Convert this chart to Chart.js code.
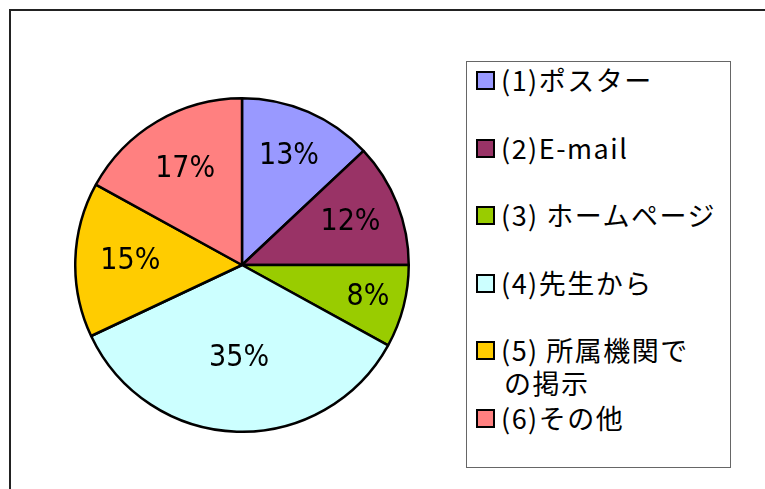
<!DOCTYPE html>
<html>
<head>
<meta charset="utf-8">
<script src="https://cdn.jsdelivr.net/npm/chart.js@4/dist/chart.umd.min.js"></script>
<style>
    html, body { margin: 0; padding: 0; background: #fff; }
    body { width: 765px; height: 489px; position: relative; overflow: hidden; }
    .frame {
        position: absolute; left: 9px; top: 9px; width: 800px; height: 520px;
        border-left: 2px solid #222; border-top: 2px solid #222;
    }
    #pieWrap { position: absolute; left: 74px; top: 97px; width: 336px; height: 336px; }
    .legend {
        position: absolute; left: 466px; top: 61px; width: 263px; height: 405px;
        border: 1px solid #666; box-sizing: content-box;
    }
    .legend ul { list-style: none; margin: 0; padding: 1px 0 0 0; }
    .legend li { position: relative; height: 67.6px; }
    .legend .sw {
        position: absolute; left: 9px; top: 8px; width: 15px; height: 15px;
        border: 2px solid #000;
    }
    .legend .txt {
        position: absolute; left: 34px; top: 0; white-space: nowrap;
        font-family: "Noto Sans CJK JP", sans-serif; font-size: 27px; line-height: 33px;
        letter-spacing: 1.5px; color: #000;
    }
    .legend .txt span { display: block; }
    .legend .txt span + span { padding-left: 3px; }
</style>
</head>
<body>
<div class="frame"></div>
<div id="pieWrap"><canvas id="pie"></canvas></div>
<div class="legend"><ul id="legendList"></ul></div>

<script>
// データ
const labels = ['(1)ポスター', '(2)E-mail', '(3) ホームページ', '(4)先生から', ['(5) 所属機関で', 'の掲示'], '(6)その他'];
const values = [13, 12, 8, 35, 15, 17];
const colors = ['#9999FF', '#993366', '#99CC00', '#CCFFFF', '#FFCC00', '#FF8080'];
// ラベル位置（半径に対する比率）
const labelRadius = [0.71, 0.70, 0.78, 0.56, 0.67, 0.67];

// パーセント表示プラグイン
const pctLabels = {
    id: 'pctLabels',
    afterDatasetsDraw(chart) {
        const ctx = chart.ctx;
        const meta = chart.getDatasetMeta(0);
        ctx.save();
        ctx.font = '30px "Liberation Sans Narrow", "DejaVu Sans Condensed", sans-serif';
        ctx.fillStyle = '#000';
        ctx.textAlign = 'center';
        ctx.textBaseline = 'middle';
        meta.data.forEach((arc, i) => {
            const p = arc.getProps(['x', 'y', 'startAngle', 'endAngle', 'outerRadius'], true);
            const mid = (p.startAngle + p.endAngle) / 2;
            const r = p.outerRadius * labelRadius[i];
            ctx.fillText(values[i] + '%', p.x + Math.cos(mid) * r, p.y + Math.sin(mid) * r);
        });
        ctx.restore();
    }
};

new Chart(document.getElementById('pie'), {
    type: 'pie',
    data: {
        labels: labels,
        datasets: [{
            data: values,
            backgroundColor: colors,
            borderColor: '#000',
            borderWidth: 2.5
        }]
    },
    options: {
        responsive: true,
        maintainAspectRatio: false,
        animation: false,
        plugins: {
            legend: { display: false },
            tooltip: { enabled: false }
        }
    },
    plugins: [pctLabels]
});

// 凡例
const list = document.getElementById('legendList');
labels.forEach((lab, i) => {
    const li = document.createElement('li');
    const lines = Array.isArray(lab) ? lab : [lab];
    li.innerHTML = `<div class="sw" style="background:${colors[i]}"></div>` +
        `<div class="txt">${lines.map(l => `<span>${l}</span>`).join('')}</div>`;
    list.appendChild(li);
});
</script>
</body>
</html>
